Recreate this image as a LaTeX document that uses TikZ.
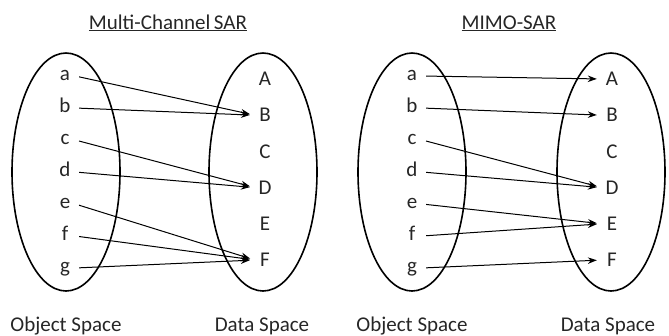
\documentclass[tikz,border=0pt]{standalone}
\usepackage{fontspec}
\setmainfont{Carlito}
\usetikzlibrary{arrows.meta,shapes.geometric}
\begin{document}
\begin{tikzpicture}[x=1pt,y=-1pt,
  txt/.style={font=\fontsize{21}{25}\selectfont, text=black!85, inner sep=0pt},
  lo/.style={txt, minimum width=20pt, text height=9.8pt, text depth=0pt},
  up/.style={txt, minimum width=20pt, text height=13.5pt, text depth=0pt},
  ell/.style={draw, ellipse, line width=1.6pt, minimum width=108pt, minimum height=238pt, inner sep=0pt},
  arr/.style={-{Stealth[length=9pt,width=6.5pt]}, line width=1pt, shorten <=4pt, shorten >=5pt},
  lab/.style={txt, anchor=base}]
\useasboundingbox (0,0) rectangle (669,335);
% titles
\node[lab] (t1) at (168,29) {\underline{Multi-Channel\,SAR}};
\node[lab] (t2) at (509,29) {\underline{MIMO-SAR}};
% ellipses
\node[ell] (e1) at (66,172) {};
\node[ell] (e2) at (263,172) {};
\node[ell] (e3) at (412,172) {};
\node[ell] (e4) at (611,172) {};
% letters
\foreach \n/\i in {a/0,b/1,c/2,d/3,e/4,f/5,g/6}{
  \node[lo] (L\n) at (65,76+32*\i) {\n};
  \node[lo] (R\n) at (412,76+32*\i) {\n};
}
\foreach \n/\i in {A/0,B/1,C/2,D/3,E/4,F/5}{
  \node[up] (L\n) at (265,79+36.2*\i) {\n};
  \node[up] (R\n) at (612,79+36.2*\i) {\n};
}
% left arrows
\draw[arr] (La.east) -- (LB.west);
\draw[arr] (Lb.east) -- (LB.west);
\draw[arr] (Lc.east) -- (LD.west);
\draw[arr] (Ld.east) -- (LD.west);
\draw[arr] (Le.east) -- (LF.west);
\draw[arr] (Lf.east) -- (LF.west);
\draw[arr] (Lg.east) -- (LF.west);
% right arrows
\draw[arr] (Ra.east) -- (RA.west);
\draw[arr] (Rb.east) -- (RB.west);
\draw[arr] (Rc.east) -- (RD.west);
\draw[arr] (Rd.east) -- (RD.west);
\draw[arr] (Re.east) -- (RE.west);
\draw[arr] (Rf.east) -- (RE.west);
\draw[arr] (Rg.east) -- (RF.west);
% bottom labels
\node[lab] (o1) at (66,331) {Object Space};
\node[lab] (d1) at (262,331) {Data Space};
\node[lab] (o2) at (412,331) {Object Space};
\node[lab] (d2) at (608,331) {Data Space};
\end{tikzpicture}
\end{document}
